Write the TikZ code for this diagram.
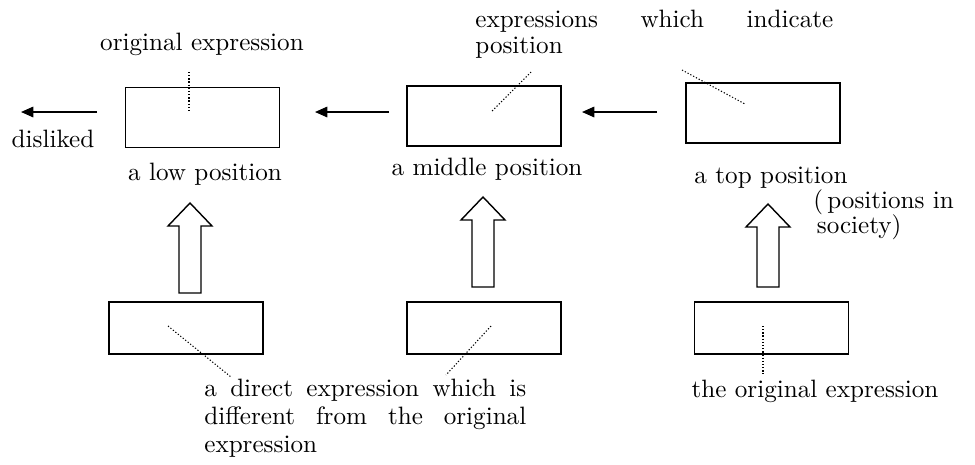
\documentclass[tikz,border=0pt]{standalone}
\usepackage{fontspec}
\setmainfont{lmroman10-regular.otf}
\usepackage{tikz}
\usetikzlibrary{arrows.meta}

\begin{document}
\begin{tikzpicture}[x=0.02cm, y=-0.02cm,
	every node/.style={font=\fontsize{14.3}{15}\selectfont, inner sep=0pt},
	posbox/.style={draw, line width=1pt, minimum width=3.08cm, minimum height=1.2cm},
	exprbox/.style={draw, line width=1pt, minimum width=3.08cm, minimum height=1.04cm},
	leader/.style={line width=0.6pt, dash pattern=on 0.7pt off 1.1pt},
	toward/.style={line width=0.8pt, -{Triangle[length=7pt, width=6pt]}},
	blockup/.pic={\draw[line width=0.8pt] (0,0) -- (22,23) -- (11,23) -- (11,#1) -- (-11,#1) -- (-11,23) -- (-22,23) -- cycle;}]
	\useasboundingbox (0,0) rectangle (975,464);
	\node[posbox] (low) at (202.5,117.5) {};
	\node[posbox] (mid) at (484,116) {};
	\node[posbox] (top) at (763,113) {};
	\node[exprbox] (lowd) at (186,328) {};
	\node[exprbox] (midd) at (484,328) {};
	\node[exprbox] (topd) at (771.5,328) {};
	\node[anchor=base] (lowlab) at (205,180) {a low position};
	\node[anchor=base] (midlab) at (487,175) {a middle position};
	\node[anchor=base] (toplab) at (771,183) {a top position};
	\node[anchor=base] (orig) at (202,50) {original expression};
	\node[anchor=base] (disl) at (53,147) {disliked};
	\node[anchor=base west, text width=7.16cm, align=justify] (indic) at (475,27) {expressions which indicate\linebreak position};
	\node[anchor=base west, align=left] (soc) at (813,233) {(\,positions in\\[-1pt]\hspace{2pt}society)};
	\node[anchor=base west, text width=6.44cm, align=justify, font=\fontsize{14.3}{16.2}\selectfont] (direct) at (204,396) {a direct expression which is\linebreak different from the original\linebreak expression};
	\node[anchor=base] (origd) at (815,397) {the original expression};
	\coordinate (lowout) at (97,112);
	\coordinate (lowend) at (21,112);
	\coordinate (midout) at (389,112);
	\coordinate (midend) at (315,112);
	\coordinate (topout) at (657,112);
	\coordinate (topend) at (582,112);
	\draw[toward] (lowout) -- (lowend);
	\draw[toward] (midout) -- (midend);
	\draw[toward] (topout) -- (topend);
	\pic at (190,203) {blockup=90};
	\pic at (483,197) {blockup=90};
	\pic at (768,204) {blockup=83};
	\draw[leader] (189,72) -- (189,110);
	\draw[leader] (531,72) -- (492,111);
	\draw[leader] (682,70) -- (745,104);
	\draw[leader] (168,326) -- (231,377);
	\draw[leader] (491,326) -- (446,375);
	\draw[leader] (763,326) -- (763,374);
\end{tikzpicture}
\end{document}
